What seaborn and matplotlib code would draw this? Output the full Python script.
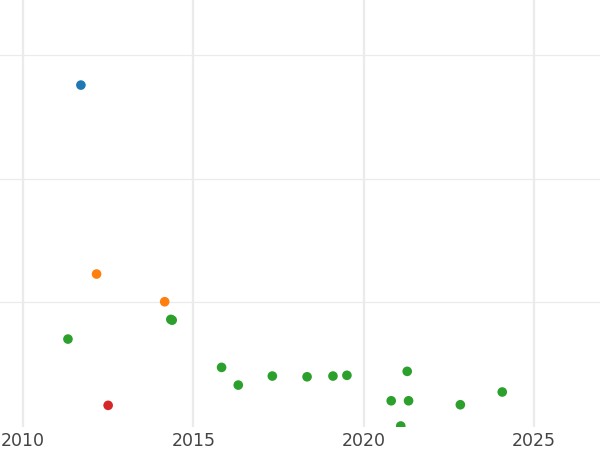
import matplotlib
matplotlib.use("Agg")
import matplotlib.pyplot as plt
import seaborn as sns
import pandas as pd

# Data
years = [2011.70, 2012.16, 2014.16, 2014.34, 2014.38, 2011.32, 2012.50,
         2015.83, 2016.32, 2017.32, 2018.34, 2019.10, 2019.51, 2021.28,
         2020.81, 2021.32, 2021.09, 2022.84, 2024.07]
values = [2.757, 1.229, 1.005, 0.862, 0.856, 0.703, 0.167,
          0.474, 0.331, 0.404, 0.398, 0.404, 0.410, 0.442,
          0.204, 0.204, 0.000, 0.172, 0.275]
groups = ["A", "B", "B", "C", "C", "C", "D",
          "C", "C", "C", "C", "C", "C", "C",
          "C", "C", "C", "C", "C"]
group_order = ["A", "B", "C", "D"]
x_ticks = [2010, 2015, 2020, 2025]
y_ticks = [1, 2, 3]

df = pd.DataFrame({"year": years, "value": values, "group": groups})

sns.set_theme(style="white")
plt.rcParams["font.family"] = ["DejaVu Sans"]

fig = plt.figure(figsize=(6, 4.5), dpi=100)
ax = fig.add_axes([0, 1 - 426.5 / 450, 1, 426.5 / 450])

sns.scatterplot(data=df, x="year", y="value", hue="group", hue_order=group_order,
                palette="tab10", s=48, linewidth=0, legend=False, ax=ax, zorder=3)

ax.set_xlim(2009.325, 2026.94)
ax.set_ylim(-0.004, 3.445)
ax.set_xticks(x_ticks)
ax.set_xticklabels([str(t) for t in x_ticks])
ax.set_yticks(y_ticks)
ax.set_yticklabels([])
ax.tick_params(axis="x", length=0, pad=4, labelsize=12.5, labelcolor="#444444")
ax.tick_params(axis="y", length=0)
ax.xaxis.grid(True, color="#ebebeb", linewidth=1.6)
ax.yaxis.grid(True, color="#ebebeb", linewidth=0.9)
ax.set_axisbelow(True)
for s in ax.spines.values():
    s.set_visible(False)
ax.set_xlabel("")
ax.set_ylabel("")

fig.savefig("out.png", dpi=100)
